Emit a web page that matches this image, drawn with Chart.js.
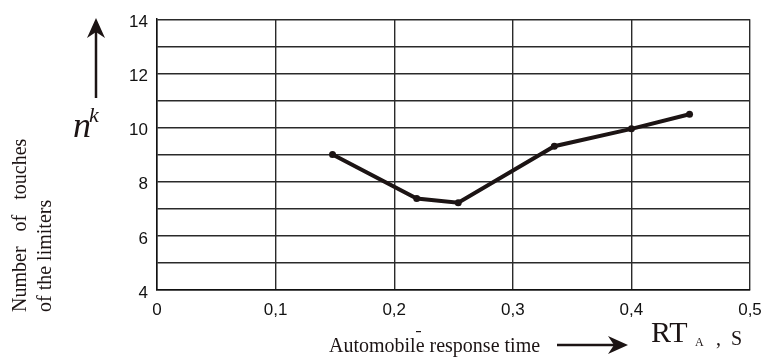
<!DOCTYPE html>
<html>
<head>
<meta charset="utf-8">
<script src="https://cdn.jsdelivr.net/npm/chart.js@4"></script>
<style>
  html, body { margin: 0; padding: 0; background: #fff; }
  #wrap { width: 766px; height: 363px; }
</style>
</head>
<body>
<div id="wrap"><canvas id="myChart" width="766" height="363"></canvas></div>
<script>
// response time, s
const responseTime = [0.148, 0.219, 0.254, 0.335, 0.400, 0.449]
// number of touches of the limiters
const touches = [9.0, 7.38, 7.22, 9.31, 9.95, 10.49]

const xTicks = [0, 0.1, 0.2, 0.3, 0.4, 0.5]
const yTicks = [4, 6, 8, 10, 12, 14]

const points = responseTime.map((x, i) => ({ x: x, y: touches[i] }))

const ink = '#1c1414'

// arrow with a notched head
const drawArrow = (ctx, x1, y1, x2, y2, head) => {
    const a = Math.atan2(y2 - y1, x2 - x1)
    ctx.save()
    ctx.strokeStyle = ink
    ctx.fillStyle = ink
    ctx.lineWidth = 2.5
    ctx.beginPath()
    ctx.moveTo(x1, y1)
    ctx.lineTo(x2 - Math.cos(a) * head * 0.6, y2 - Math.sin(a) * head * 0.6)
    ctx.stroke()
    ctx.translate(x2, y2)
    ctx.rotate(a)
    ctx.beginPath()
    ctx.moveTo(0, 0)
    ctx.lineTo(-head, -head * 0.45)
    ctx.lineTo(-head * 0.7, 0)
    ctx.lineTo(-head, head * 0.45)
    ctx.closePath()
    ctx.fill()
    ctx.restore()
}

const annotations = {
    id: 'annotations',
    afterDraw(chart) {
        const ctx = chart.ctx
        ctx.save()
        ctx.fillStyle = ink

        // y axis symbol
        drawArrow(ctx, 96, 98, 96, 18, 20)
        ctx.font = 'italic 36px "Liberation Serif"'
        ctx.textBaseline = 'alphabetic'
        ctx.fillText('n', 73, 137)
        ctx.font = 'italic 22px "Liberation Serif"'
        ctx.fillText('k', 89, 122)

        // y axis title, two rotated lines
        ctx.font = '20px "Liberation Serif"'
        ctx.save()
        ctx.translate(26, 312)
        ctx.rotate(-Math.PI / 2)
        ctx.fillText('Number   of   touches', 0, 0)
        ctx.restore()
        ctx.save()
        ctx.translate(51, 312)
        ctx.rotate(-Math.PI / 2)
        ctx.fillText('of the limiters', 0, 0)
        ctx.restore()

        // x axis title
        ctx.font = '20px "Liberation Serif"'
        ctx.fillText('Automobile response time', 329, 352)
        ctx.fillRect(416, 331, 5, 1.2)
        drawArrow(ctx, 557, 345, 628, 345, 20)
        ctx.font = '30px "Liberation Serif"'
        ctx.fillText('RT', 651, 342)
        ctx.font = '12px "Liberation Serif"'
        ctx.fillText('A', 695, 346)
        ctx.font = '20px "Liberation Serif"'
        ctx.fillText(',  S', 716, 345)
        ctx.restore()
    }
}

const data = {
    datasets: [{
        label: 'touches',
        data: points,
        showLine: true,
        borderColor: ink,
        backgroundColor: ink,
        borderWidth: 4,
        pointRadius: 3.5,
        pointBorderWidth: 0,
        tension: 0
    }]
}

const config = {
    type: 'scatter',
    data: data,
    options: {
        responsive: false,
        animation: false,
        layout: {
            padding: { left: 117, right: 16, top: 14, bottom: 0 }
        },
        plugins: {
            legend: { display: false },
            tooltip: { enabled: false }
        },
        scales: {
            x: {
                type: 'linear',
                min: 0,
                max: 0.5,
                afterFit: (scale) => {
                    scale.height = 73
                    scale.paddingLeft = 0
                    scale.paddingRight = 0
                },
                afterBuildTicks: (scale) => {
                    scale.ticks = xTicks.map((v) => ({ value: v }))
                },
                border: { color: '#111', width: 1.5 },
                grid: { color: '#2a2a2a', lineWidth: 1.4, drawTicks: false },
                ticks: {
                    padding: 10,
                    color: '#111',
                    font: { family: '"Liberation Sans"', size: 17 },
                    callback: (v) => v === 0 ? '0' : v.toFixed(1).replace('.', ',')
                }
            },
            y: {
                min: 4,
                max: 14,
                afterFit: (scale) => { scale.width = 40 },
                ticks: {
                    stepSize: 1,
                    padding: 9,
                    labelOffset: 3,
                    color: '#111',
                    font: { family: '"Liberation Sans"', size: 17 },
                    callback: (v) => yTicks.includes(v) ? String(v) : ''
                },
                border: { color: '#111', width: 1.5 },
                grid: { color: '#2a2a2a', lineWidth: 1.4, drawTicks: false }
            }
        }
    },
    plugins: [annotations]
}

const myChart = new Chart(document.getElementById('myChart'), config)
</script>
</body>
</html>
